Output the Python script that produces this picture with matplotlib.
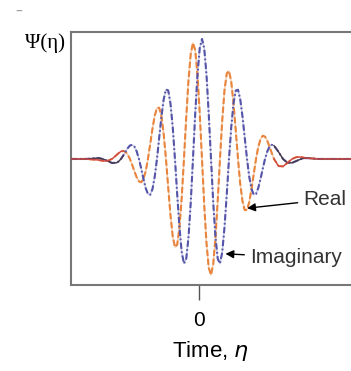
import matplotlib
matplotlib.use("Agg")
import matplotlib.pyplot as plt

# Time axis samples (eta) and wavelet components
eta = [-3.72, -3.30, -2.923, -2.792, -2.661, -2.530, -2.399, -2.334,
       -2.268, -2.203, -2.138, -2.072, -2.007, -1.941, -1.876, -1.810,
       -1.745, -1.679, -1.614, -1.548, -1.483, -1.418, -1.352, -1.287,
       -1.221, -1.156, -1.090, -1.025, -0.959, -0.894, -0.829, -0.763,
       -0.698, -0.632, -0.567, -0.501, -0.436, -0.370, -0.305, -0.239,
       -0.174, -0.109, -0.043, 0.022, 0.088, 0.153, 0.219, 0.284,
       0.350, 0.415, 0.481, 0.546, 0.611, 0.677, 0.742, 0.808,
       0.873, 0.939, 1.004, 1.070, 1.135, 1.200, 1.266, 1.331,
       1.397, 1.462, 1.528, 1.593, 1.659, 1.724, 1.790, 1.855,
       1.920, 1.986, 2.051, 2.117, 2.182, 2.313, 2.444, 2.575,
       2.706, 2.837, 2.968, 3.099, 3.50, 4.42]

real_part = [0.0, 0.0, -0.008, -0.016, -0.016, 0.0, 0.032, 0.049,
             0.063, 0.067, 0.060, 0.037, 0.0, -0.049, -0.103, -0.153,
             -0.187, -0.194, -0.166, -0.101, 0.0, 0.123, 0.251, 0.360,
             0.425, 0.427, 0.354, 0.206, 0.0, -0.237, -0.465, -0.644,
             -0.735, -0.713, -0.571, -0.322, 0.0, 0.345, 0.655, 0.876,
             0.967, 0.906, 0.701, 0.382, 0.0, -0.382, -0.701, -0.906,
             -0.966, -0.876, -0.654, -0.344, 0.0, 0.322, 0.571, 0.712,
             0.734, 0.643, 0.464, 0.236, 0.0, -0.206, -0.353, -0.426,
             -0.424, -0.359, -0.250, -0.123, 0.0, 0.100, 0.166, 0.194,
             0.186, 0.152, 0.103, 0.049, 0.0, -0.059, -0.062, -0.032,
             0.0, 0.016, 0.016, 0.008, 0.0, 0.0]

imag_part = [0.0, 0.0, 0.008, 0.0, -0.016, -0.033, -0.032, -0.020,
             0.0, 0.028, 0.060, 0.090, 0.112, 0.118, 0.103, 0.063,
             0.0, -0.080, -0.166, -0.243, -0.292, -0.298, -0.251, -0.149,
             0.0, 0.177, 0.354, 0.498, 0.579, 0.571, 0.465, 0.267,
             0.0, -0.296, -0.571, -0.777, -0.872, -0.832, -0.655, -0.363,
             0.0, 0.376, 0.701, 0.922, 1.000, 0.922, 0.701, 0.375,
             0.0, -0.363, -0.654, -0.832, -0.872, -0.776, -0.571, -0.295,
             0.0, 0.266, 0.464, 0.570, 0.577, 0.497, 0.353, 0.177,
             0.0, -0.149, -0.250, -0.297, -0.291, -0.242, -0.166, -0.080,
             0.0, 0.063, 0.103, 0.118, 0.111, 0.059, 0.0, -0.032,
             -0.032, -0.016, 0.0, 0.008, 0.0, 0.0]

xticks = [0]
xtick_labels = ["0"]

fig = plt.figure(figsize=(3.51, 3.71), dpi=100)
ax = fig.add_axes([71/351, 1 - 285/371, 1 - 71/351, (285 - 32)/371])

# faint continuous trace under the dashes
ax.plot(eta, real_part, color="#f3c9a8", lw=1.0, zorder=2)
ax.plot(eta, imag_part, color="#c4c4e4", lw=1.0, zorder=2)

# solid tails (flat parts look solid in the reference)
left = [i for i, e in enumerate(eta) if e <= -2.20]
right = [i for i, e in enumerate(eta) if e >= 2.18]
for idx in (left, right):
    ax.plot([eta[i] for i in idx], [imag_part[i] for i in idx],
            color="#4a3a48", lw=1.0, zorder=5)
    ax.plot([eta[i] for i in idx], [real_part[i] for i in idx],
            color="#d04848", lw=1.0, zorder=5)

# dashed coloured curves
ax.plot(eta, real_part, color="#e8843c", lw=1.5, ls=(0, (3, 1.3)), zorder=3)
ax.plot(eta, imag_part, color="#5454a8", lw=1.5, ls=(0, (3, 1.2, 0.8, 1.2)), zorder=4)

ax.set_xlim(-3.72, 4.42)
ax.set_ylim(-1.05, 1.058)

for s in ["left", "top", "bottom"]:
    ax.spines[s].set_color("#777777")
    ax.spines[s].set_linewidth(1.5)
ax.spines["right"].set_visible(False)

ax.set_xticks(xticks)
ax.set_xticklabels(xtick_labels, fontsize=15, family="Liberation Sans")
ax.set_yticks([])
ax.tick_params(axis="x", direction="out", length=11, width=1.0, color="#555555", pad=8)

ax.set_xlabel(r"Time, $\eta$", fontsize=16, family="Liberation Sans", labelpad=6)

fig.text(65/351, 1 - 43/371, "Ψ(η)", fontsize=15, family="Liberation Serif",
         ha="right", va="center")
fig.text(19/351, 1 - 12/371, "–", fontsize=10, color="#999999", ha="center", va="center")

ax.annotate("Real", xy=(1.40, -0.41), xytext=(3.03, -0.34),
            fontsize=15, family="Liberation Sans", color="#333333",
            va="center", ha="left",
            arrowprops=dict(arrowstyle="-|>", color="black", lw=1.0,
                            mutation_scale=12, shrinkA=2, shrinkB=0))
ax.annotate("Imaginary", xy=(0.77, -0.79), xytext=(1.48, -0.82),
            fontsize=15, family="Liberation Sans", color="#333333",
            va="center", ha="left",
            arrowprops=dict(arrowstyle="-|>", color="black", lw=1.0,
                            mutation_scale=12, shrinkA=2, shrinkB=0))

fig.savefig("out.png", dpi=100)
